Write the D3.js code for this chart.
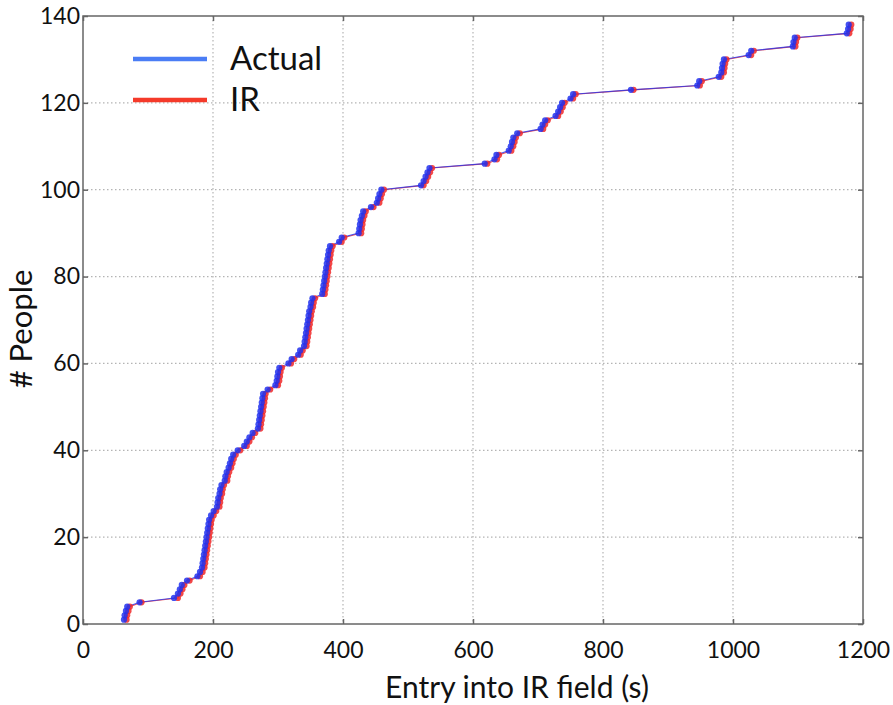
<!DOCTYPE html>
<html>
<head>
<meta charset="utf-8">
<script src="https://cdn.jsdelivr.net/npm/d3@7"></script>
<style>
  html, body { margin: 0; padding: 0; background: #fff; }
  svg { display: block; }
</style>
</head>
<body>
<svg id="chart" width="893" height="705"></svg>
<script>
// Entry times (s) of each person, in order of arrival
const actualTimes = [63,64,66,68,87,140,146,149,152,160,176,180,183,184,185,186,187,188,189,190,191,192,193,194,197,201,206,207,208,210,211,213,218,219,221,224,226,228,231,238,248,252,256,261,269,270,271,272,273,274,275,276,277,284,296,298,299,300,302,316,321,331,334,340,341,342,343,344,345,346,347,348,350,351,353,368,369,370,371,372,373,374,375,376,377,378,380,394,398,424,425,426,427,429,431,443,452,454,456,459,520,524,527,530,533,618,633,636,655,658,660,662,668,704,707,711,727,731,734,737,750,754,843,945,948,978,982,983,984,986,1024,1028,1092,1093,1095,1175,1177,1178];
const irTimes = [67,68,70,72,90,146,150,153,156,164,180,184,187,188,189,190,191,192,193,194,195,196,197,198,201,205,210,211,212,214,215,217,222,223,225,228,230,232,235,242,252,256,260,265,273,274,275,276,277,278,279,280,281,288,300,302,303,304,306,320,325,335,338,344,345,346,347,348,349,350,351,352,354,355,357,372,373,374,375,376,377,378,379,380,381,382,384,398,402,428,429,430,431,433,435,447,456,458,460,463,524,528,531,534,537,622,637,640,659,662,664,666,672,708,711,715,731,735,738,741,754,758,847,949,952,982,986,987,988,990,1028,1032,1096,1097,1099,1179,1181,1182];
const xTicks = [0,200,400,600,800,1000,1200];
const yTicks = [0,20,40,60,80,100,120,140];
const seriesNames = ["Actual", "IR"];
const seriesColors = ["#2233ee", "#f02828"];
const legendColors = ["#4a7df5", "#f53a2a"];

const svg = d3.select("#chart");
const plot = { left: 83, right: 863, top: 16, bottom: 624 };
const x = d3.scaleLinear().domain([0, 1200]).range([plot.left, plot.right]);
const y = d3.scaleLinear().domain([0, 140]).range([plot.bottom, plot.top]);
const font = "Lato, 'Open Sans', sans-serif";

// dotted grid
const grid = svg.append("g");
grid.selectAll(".gx").data(xTicks.slice(1, -1)).join("line")
  .attr("x1", d => x(d)).attr("x2", d => x(d))
  .attr("y1", plot.top).attr("y2", plot.bottom)
  .attr("stroke", "#b4b4b4").attr("stroke-width", 1.2).attr("stroke-dasharray", "1.5,2.5");
grid.selectAll(".gy").data(yTicks.slice(1, -1)).join("line")
  .attr("y1", d => y(d)).attr("y2", d => y(d))
  .attr("x1", plot.left).attr("x2", plot.right)
  .attr("stroke", "#b4b4b4").attr("stroke-width", 1.2).attr("stroke-dasharray", "1.5,2.5");

// inward ticks on all four sides
const tk = 5;
const axisBottom = d3.axisBottom(x).tickValues(xTicks).tickSize(-tk).tickPadding(18).tickFormat(d3.format("d"));
const axisTop = d3.axisTop(x).tickValues(xTicks).tickSize(-tk).tickFormat("");
const axisLeft = d3.axisLeft(y).tickValues(yTicks).tickSize(-tk).tickPadding(3).tickFormat(d3.format("d"));
const axisRight = d3.axisRight(y).tickValues(yTicks).tickSize(-tk).tickFormat("");

function styleAxis(g) {
  g.select(".domain").remove();
  g.selectAll(".tick line").attr("stroke", "#666").attr("stroke-width", 1.5);
  g.selectAll(".tick text").attr("fill", "#111").style("font-family", font).style("font-size", "23px");
}
svg.append("g").attr("transform", `translate(0,${plot.bottom})`).call(axisBottom).call(styleAxis);
svg.append("g").attr("transform", `translate(0,${plot.top})`).call(axisTop).call(styleAxis);
svg.append("g").attr("transform", `translate(${plot.left},0)`).call(axisLeft).call(styleAxis);
svg.append("g").attr("transform", `translate(${plot.right},0)`).call(axisRight).call(styleAxis);

// series: thin connecting line plus round markers
const series = [
  { name: seriesNames[0], times: actualTimes, color: seriesColors[0] },
  { name: seriesNames[1], times: irTimes, color: seriesColors[1] }
];
const line = d3.line().x(d => x(d.t)).y(d => y(d.n));
const dataOf = s => s.times.map((t, i) => ({ t, n: i + 1 }));

// draw IR underneath, Actual on top
[series[1], series[0]].forEach(s => {
  svg.append("path").datum(dataOf(s)).attr("d", line)
    .attr("fill", "none").attr("stroke", s.color).attr("stroke-width", 1.1).attr("stroke-opacity", 0.8);
});
[series[1], series[0]].forEach(s => {
  svg.append("g").selectAll("circle").data(dataOf(s)).join("circle")
    .attr("cx", d => x(d.t)).attr("cy", d => y(d.n)).attr("r", 3.1)
    .attr("fill", s.color).attr("fill-opacity", 0.85);
});

// frame
svg.append("rect").attr("x", plot.left).attr("y", plot.top)
  .attr("width", plot.right - plot.left).attr("height", plot.bottom - plot.top)
  .attr("fill", "none").attr("stroke", "#666").attr("stroke-width", 1.5);

// legend
const legend = svg.append("g");
seriesNames.forEach((name, i) => {
  const ly = 59 + i * 41;
  legend.append("line").attr("x1", 133).attr("x2", 207).attr("y1", ly).attr("y2", ly)
    .attr("stroke", legendColors[i]).attr("stroke-width", 4.5);
  legend.append("text").attr("x", 230).attr("y", ly + 11).text(name)
    .style("font-family", font).style("font-size", "33px").attr("fill", "#111");
});

// axis titles
svg.append("text").attr("x", 517).attr("y", 698)
  .attr("text-anchor", "middle").text("Entry into IR field (s)")
  .style("font-family", font).style("font-size", "30px").attr("fill", "#111");
svg.append("text").attr("transform", `translate(32,329) rotate(-90)`)
  .attr("text-anchor", "middle").text("# People")
  .style("font-family", font).style("font-size", "31px").attr("fill", "#111");
</script>
</body>
</html>
